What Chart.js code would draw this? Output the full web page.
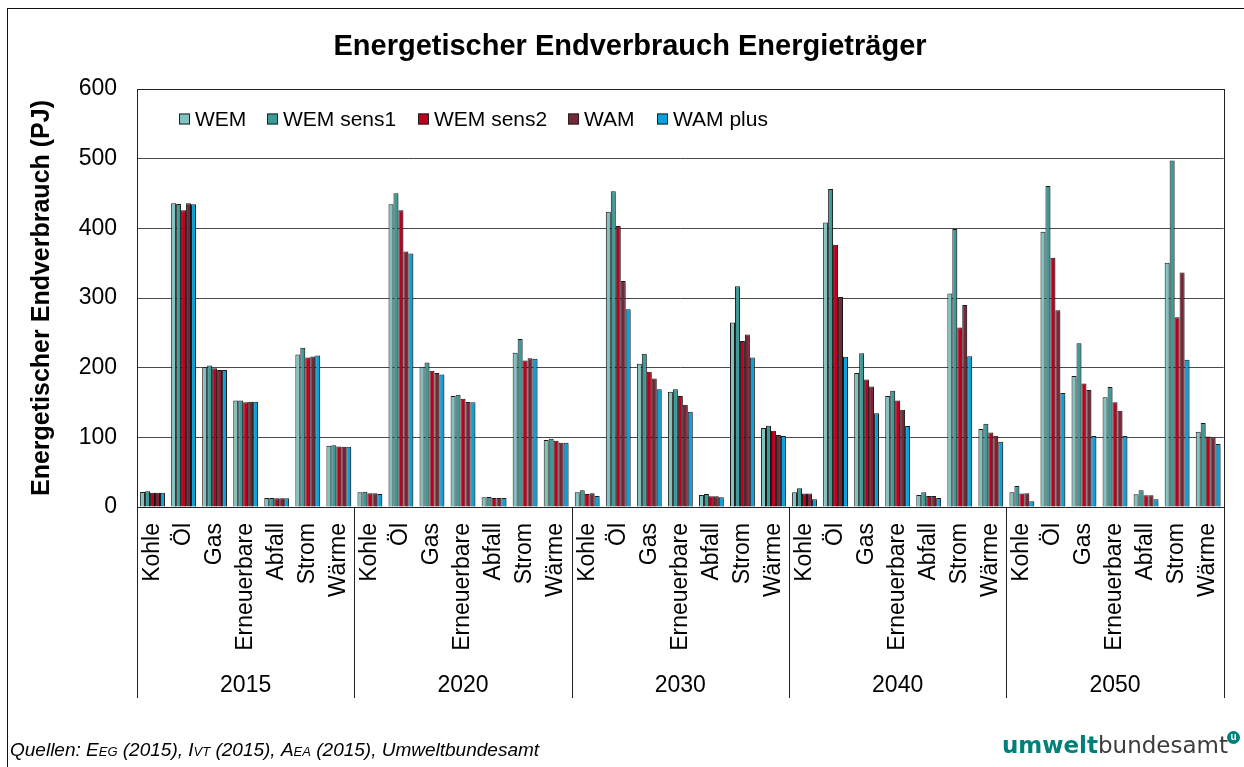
<!DOCTYPE html>
<html>
<head>
<meta charset="utf-8">
<script src="https://cdn.jsdelivr.net/npm/chart.js@4"></script>
<style>
  body { margin: 0; background: #fff; }
  #wrap { position: relative; width: 1244px; height: 767px; overflow: hidden; }
  #frame { position: absolute; left: 7px; top: 8px; width: 1300px; height: 800px;
           border-left: 1px solid #111; border-top: 1px solid #111; }
  #src { position: absolute; left: 10px; top: 739px; font: italic 19px Arial, "Liberation Sans", sans-serif;
         color: #000; white-space: nowrap; }
  #src .sc { font-variant: small-caps; }
  #logo { position: absolute; right: 16px; top: 732px; font: 23px "DejaVu Sans", sans-serif; white-space: nowrap; }
  #logo b { color: #00807a; }
  #logo span { color: #3c3c3c; }
  #logo i { position: absolute; right: -12px; top: -1px; width: 13px; height: 13px; border-radius: 50%;
            background: #00807a; color: #fff; font: bold 10px Arial, sans-serif; font-style: normal;
            text-align: center; line-height: 12px; }
  canvas { position: absolute; left: 0; top: 0; }
</style>
</head>
<body>
<div id="wrap">
  <div id="frame"></div>
  <canvas id="chart" width="1244" height="767"></canvas>
  <div id="src">Quellen: <span class="sc">Eeg</span> (2015), <span class="sc">Ivt</span> (2015), <span class="sc">Aea</span> (2015), Umweltbundesamt</div>
  <div id="logo"><b>umwelt</b><span>bundesamt</span><i>u</i></div>
</div>
<script>
// Kategorien und Jahre
const categories = ['Kohle', 'Öl', 'Gas', 'Erneuerbare', 'Abfall', 'Strom', 'Wärme'];
const years = ['2015', '2020', '2030', '2040', '2050'];
const seriesNames = ['WEM', 'WEM sens1', 'WEM sens2', 'WAM', 'WAM plus'];
const seriesColors = ['#80c3c0', '#3d9b97', '#bd0020', '#7a2536', '#0aa0da'];
const yTicks = [0, 100, 200, 300, 400, 500, 600];

// Werte in PJ, je Jahr 7 Kategorien
const wem = [
  21.6, 435.9, 200.7, 152.7, 13.0, 218.9, 87.9,
  21.0, 434.5, 201.2, 159.4, 13.9, 221.3, 96.0,
  21.0, 423.9, 205.5, 165.6, 17.3, 265.0, 113.3,
  21.0, 408.5, 192.5, 159.4, 17.3, 306.3, 111.9,
  21.0, 395.1, 188.2, 157.5, 18.2, 350.5, 108.0
];
const wemSens1 = [
  22.6, 435.0, 203.0, 153.0, 13.0, 228.5, 88.8,
  22.0, 450.3, 207.4, 161.3, 14.4, 241.0, 98.0,
  24.0, 453.2, 219.9, 169.0, 18.7, 316.8, 116.7,
  26.9, 456.5, 220.8, 167.0, 21.0, 398.9, 119.5,
  30.2, 460.9, 235.2, 172.3, 24.0, 497.4, 120.5
];
const wemSens2 = [
  20.6, 425.8, 199.0, 150.3, 12.5, 214.6, 86.9,
  19.7, 425.8, 195.4, 155.5, 13.0, 210.3, 95.0,
  18.7, 403.3, 194.0, 159.4, 15.4, 238.1, 109.5,
  19.2, 376.4, 182.9, 152.7, 15.8, 257.8, 107.1,
  19.2, 357.7, 177.1, 150.3, 16.8, 272.2, 101.3
];
const wam = [
  20.6, 436.0, 196.8, 151.2, 12.5, 216.0, 86.4,
  19.7, 366.8, 192.5, 150.7, 13.0, 213.6, 92.2,
  19.7, 324.5, 184.3, 146.9, 15.4, 247.7, 103.2,
  19.2, 301.5, 172.8, 139.7, 15.8, 290.0, 102.3,
  19.7, 282.3, 168.0, 138.3, 16.8, 336.6, 99.9
];
const wamPlus = [
  20.6, 434.5, 196.8, 151.2, 12.5, 217.5, 86.4,
  18.7, 363.9, 190.1, 150.3, 13.0, 212.7, 92.2,
  15.8, 283.7, 169.0, 136.8, 13.9, 214.6, 101.8,
  11.0, 215.5, 134.4, 116.2, 13.0, 216.5, 93.6,
  8.2, 163.7, 101.8, 101.8, 11.0, 211.2, 90.3
];
const seriesValues = [wem, wemSens1, wemSens2, wam, wamPlus];

const FONT = 'Arial, "Liberation Sans", sans-serif';
Chart.defaults.font.family = FONT;
Chart.defaults.color = '#000';

const labels = [];
years.forEach(() => categories.forEach(c => labels.push(c)));

// Titel, Legende im Plotbereich, Rahmen, Jahresachse
const decorPlugin = {
  id: 'decor',
  beforeDatasetsDraw(chart) {
    const ctx = chart.ctx;
    ctx.save();
    ctx.shadowColor = 'rgba(0,0,0,0.28)';
    ctx.shadowOffsetX = 2;
    ctx.shadowOffsetY = 1;
    ctx.shadowBlur = 2;
  },
  afterDatasetsDraw(chart) {
    chart.ctx.restore();
  },
  afterDraw(chart) {
    const { ctx, chartArea: a } = chart;
    const x = chart.scales.x;
    ctx.save();

    // Titel
    ctx.font = 'bold 29px ' + FONT;
    ctx.fillStyle = '#000';
    ctx.textAlign = 'center';
    ctx.textBaseline = 'middle';
    ctx.fillText('Energetischer Endverbrauch Energieträger', 630, 47);

    // Plotrahmen
    ctx.strokeStyle = '#222';
    ctx.lineWidth = 1;
    ctx.strokeRect(Math.round(a.left) + 0.5, Math.round(a.top) + 0.5,
                   Math.round(a.right - a.left), Math.round(a.bottom - a.top));

    // Gruppentrenner und Jahre
    const step = (x.right - x.left) / labels.length;
    const bottomY = 698;
    ctx.beginPath();
    for (let g = 0; g <= years.length; g++) {
      const px = Math.round(x.left + g * categories.length * step) + 0.5;
      ctx.moveTo(px, a.bottom);
      ctx.lineTo(px, bottomY);
    }
    ctx.stroke();
    ctx.font = '23px ' + FONT;
    years.forEach((y, g) => {
      const cx = x.left + (g + 0.5) * categories.length * step;
      ctx.fillText(y, cx, 686);
    });

    // Legende
    const legendX = [179, 267, 418, 568, 657];
    const ly = 119;
    ctx.font = '21px ' + FONT;
    ctx.textAlign = 'left';
    seriesNames.forEach((name, i) => {
      ctx.fillStyle = seriesColors[i];
      ctx.fillRect(legendX[i], ly - 5.5, 11, 11);
      ctx.strokeStyle = '#222';
      ctx.strokeRect(legendX[i] + 0.5, ly - 5.5 + 0.5, 10, 10);
      ctx.fillStyle = '#000';
      ctx.fillText(name, legendX[i] + 16, ly + 1);
    });
    ctx.restore();
  }
};

new Chart(document.getElementById('chart'), {
  type: 'bar',
  data: {
    labels: labels,
    datasets: seriesNames.map((name, i) => ({
      label: name,
      data: seriesValues[i],
      backgroundColor: seriesColors[i],
      borderColor: '#1b1b1b',
      borderWidth: 1,
      categoryPercentage: 0.8,
      barPercentage: 1.0
    }))
  },
  options: {
    responsive: false,
    animation: false,
    devicePixelRatio: 1,
    layout: { padding: { top: 89, right: 19, left: 0, bottom: 0 } },
    plugins: {
      legend: { display: false },
      tooltip: { enabled: false }
    },
    scales: {
      x: {
        grid: { display: false },
        border: { display: false },
        ticks: {
          autoSkip: false,
          minRotation: 90,
          maxRotation: 90,
          padding: 8,
          font: { size: 23 },
          color: '#000'
        },
        afterFit(scale) { scale.height = 260; }
      },
      y: {
        min: 0,
        max: 600,
        afterBuildTicks(scale) { scale.ticks = yTicks.map(v => ({ value: v })); },
        grid: { color: '#4a4a4a', lineWidth: 1, drawTicks: false },
        border: { display: false },
        ticks: { padding: 20, font: { size: 23 }, color: '#000' },
        title: {
          display: true,
          text: 'Energetischer Endverbrauch (PJ)',
          font: { size: 25, weight: 'bold' },
          color: '#000',
          padding: { top: 27, bottom: 0 }
        },
        afterFit(scale) { scale.width = 137; }
      }
    }
  },
  plugins: [decorPlugin]
});
</script>
</body>
</html>
